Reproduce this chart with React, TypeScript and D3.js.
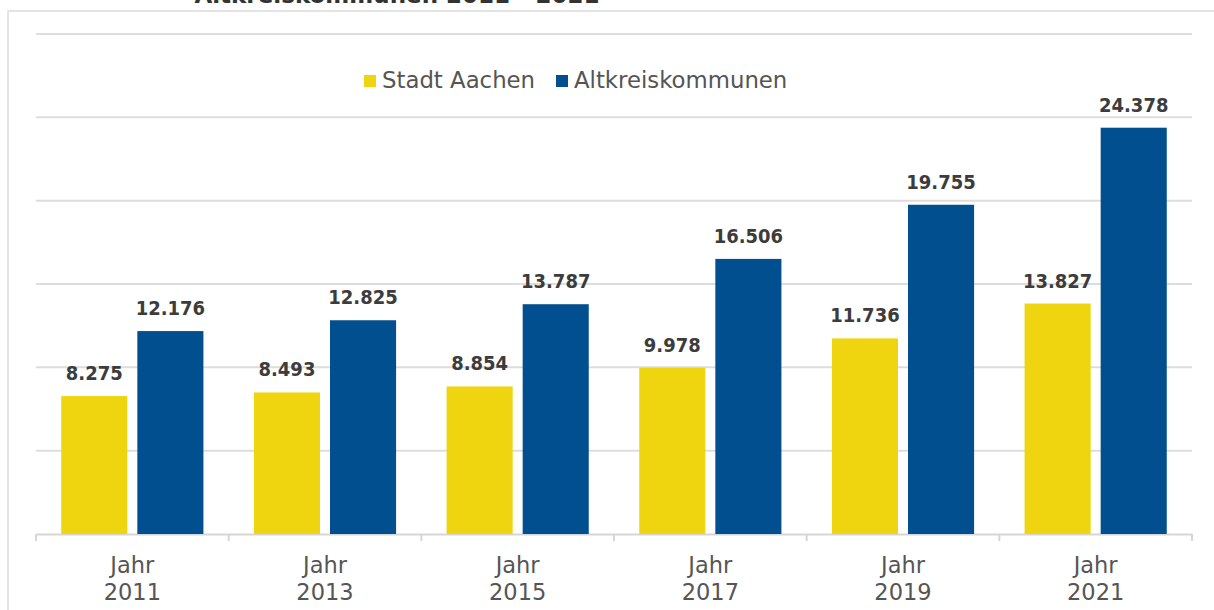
import React, { useEffect, useRef } from 'react';
import * as d3 from 'd3';

const years = ['2011', '2013', '2015', '2017', '2019', '2021'];
const stadtAachen = [8275, 8493, 8854, 9978, 11736, 13827];
const altkreis = [12176, 12825, 13787, 16506, 19755, 24378];
const seriesNames = ['Stadt Aachen', 'Altkreiskommunen'];
const gridTicks = [0, 5000, 10000, 15000, 20000, 25000, 30000];

const W = 1214;
const H = 610;
const margin = { top: 34, right: 22, bottom: 76, left: 36 };
const colors = ['#efd510', '#014f8f'];

function fmt(v: number) {
  return d3.format(',')(v).replace(/,/g, '.');
}

function PendlerChart() {
  const ref = useRef<SVGSVGElement>(null);

  useEffect(() => {
    document.body.style.margin = '0';
    const svg = d3.select(ref.current);
    svg.selectAll('*').remove();

    const x0 = d3.scaleBand().domain(years).range([margin.left, W - margin.right]);
    const y = d3.scaleLinear().domain([0, 30000]).range([H - margin.bottom, margin.top]);
    const barW = x0.bandwidth() * 0.343;
    const gap = 10;

    // frame + title (cut off at the top, as in the source)
    svg.append('rect')
      .attr('x', 8).attr('y', 11)
      .attr('width', W).attr('height', H)
      .attr('fill', 'none').attr('stroke', '#dcdcdc').attr('stroke-width', 1.5);

    svg.append('text')
      .attr('x', 397).attr('y', 3)
      .attr('text-anchor', 'middle')
      .attr('font-family', 'DejaVu Sans')
      .attr('font-weight', 'bold')
      .attr('font-size', 23)
      .attr('fill', '#333')
      .text('Altkreiskommunen 2011 - 2021');

    // gridlines
    svg.append('g')
      .selectAll('line')
      .data(gridTicks.slice(1))
      .join('line')
      .attr('x1', margin.left).attr('x2', W - margin.right)
      .attr('y1', d => y(d)).attr('y2', d => y(d))
      .attr('stroke', '#dddddd').attr('stroke-width', 2);

    // x axis
    const xAxis = svg.append('g')
      .attr('transform', `translate(0, ${y(0)})`)
      .call(d3.axisBottom(x0).tickSize(0).tickFormat(() => ''));
    xAxis.select('.domain').attr('stroke', '#d6d6d6').attr('stroke-width', 2);

    const edges = years.map(d => x0(d) as number).concat([W - margin.right]);
    xAxis.selectAll('line.edge')
      .data(edges)
      .join('line')
      .attr('class', 'edge')
      .attr('x1', d => d).attr('x2', d => d)
      .attr('y1', 0).attr('y2', 7)
      .attr('stroke', '#d6d6d6').attr('stroke-width', 2);

    const labels = svg.append('g')
      .attr('font-family', 'DejaVu Sans')
      .attr('font-size', 22.5)
      .attr('fill', '#555')
      .attr('text-anchor', 'middle');
    years.forEach(yr => {
      const cx = (x0(yr) as number) + x0.bandwidth() / 2;
      labels.append('text').attr('x', cx).attr('y', y(0) + 39).text('Jahr');
      labels.append('text').attr('x', cx).attr('y', y(0) + 66).text(yr);
    });

    // bars
    const series = [stadtAachen, altkreis];
    series.forEach((vals, si) => {
      const g = svg.append('g');
      const xPos = (i: number) => {
        const cx = (x0(years[i]) as number) + x0.bandwidth() / 2;
        return si === 0 ? cx - gap / 2 - barW : cx + gap / 2;
      };
      g.selectAll('rect')
        .data(vals)
        .join('rect')
        .attr('x', (d, i) => xPos(i))
        .attr('y', d => y(d))
        .attr('width', barW)
        .attr('height', d => y(0) - y(d))
        .attr('fill', colors[si]);

      g.selectAll('text')
        .data(vals)
        .join('text')
        .attr('x', (d, i) => xPos(i) + barW / 2)
        .attr('y', d => y(d) - 16)
        .attr('text-anchor', 'middle')
        .attr('font-family', 'DejaVu Sans Condensed, DejaVu Sans')
        .attr('font-weight', 'bold')
        .attr('font-size', 20)
        .attr('fill', '#3c3c3c')
        .text(d => fmt(d));
    });

    // legend
    const legend = svg.append('g')
      .attr('font-family', 'DejaVu Sans')
      .attr('font-size', 22.8)
      .attr('fill', '#555');
    const legendX = [364, 556];
    seriesNames.forEach((name, i) => {
      legend.append('rect')
        .attr('x', legendX[i]).attr('y', 75)
        .attr('width', 12).attr('height', 12)
        .attr('fill', colors[i]);
      legend.append('text')
        .attr('x', legendX[i] + 18).attr('y', 88)
        .text(name);
    });
  }, []);

  return <svg ref={ref} width={W} height={H} style={{ display: 'block' }} />;
}

export default function App() {
  return <PendlerChart />;
}
